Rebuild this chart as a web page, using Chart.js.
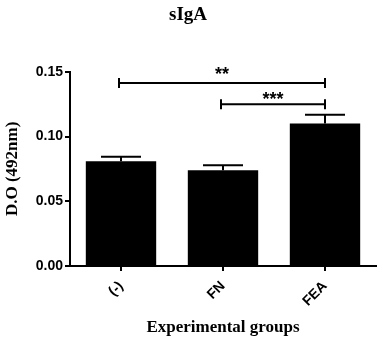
<!DOCTYPE html>
<html>
<head>
<meta charset="utf-8">
<script src="https://cdn.jsdelivr.net/npm/chart.js@4/dist/chart.umd.min.js"></script>
<style>
html,body{margin:0;padding:0;background:#fff;}
#wrap{width:383px;height:343px;}
</style>
</head>
<body>
<div id="wrap"><canvas id="c" width="383" height="343"></canvas></div>
<script>
// ---- data ----
const categories = ["(-)", "FN", "FEA"];
const means = [0.081, 0.074, 0.110];
const sems = [0.0034, 0.0039, 0.0068];
const yTicks = [0.00, 0.05, 0.10, 0.15];
const bracketFrom = [0, 1];
const bracketTo = [2, 2];
const bracketValue = [0.1413, 0.125];
const bracketLabel = ["**", "***"];

const SANS = '"Liberation Sans", Arial, sans-serif';
const SERIF = '"Liberation Serif", "Times New Roman", serif';

const errorBars = {
  id: 'errorBars',
  afterDatasetsDraw(chart) {
    const ctx = chart.ctx;
    const meta = chart.getDatasetMeta(0);
    const y = chart.scales.y;
    ctx.save();
    ctx.strokeStyle = '#000';
    ctx.lineWidth = 2;
    meta.data.forEach((bar, i) => {
      const x = bar.x;
      const yb = y.getPixelForValue(means[i]);
      const yt = y.getPixelForValue(means[i] + sems[i]);
      const half = 20;
      ctx.beginPath();
      ctx.moveTo(x, yb);
      ctx.lineTo(x, yt);
      ctx.moveTo(x - half, yt);
      ctx.lineTo(x + half, yt);
      ctx.stroke();
    });
    // significance brackets
    const xs = chart.scales.x;
    const labelGap = [13, 9];
    bracketFrom.forEach((a, k) => {
      const x1 = xs.getPixelForValue(a) - 2;
      const x2 = xs.getPixelForValue(bracketTo[k]);
      const yy = y.getPixelForValue(bracketValue[k]);
      ctx.beginPath();
      ctx.moveTo(x1, yy); ctx.lineTo(x2, yy);
      ctx.moveTo(x1, yy - 5); ctx.lineTo(x1, yy + 5);
      ctx.moveTo(x2, yy - 5); ctx.lineTo(x2, yy + 5);
      ctx.stroke();
      ctx.fillStyle = '#000';
      ctx.font = 'bold 18px ' + SANS;
      ctx.textAlign = 'center';
      ctx.textBaseline = 'alphabetic';
      const m = ctx.measureText(bracketLabel[k]);
      const cy = yy - labelGap[k];
      const base = cy + (m.actualBoundingBoxAscent - m.actualBoundingBoxDescent) / 2;
      ctx.fillText(bracketLabel[k], (x1 + x2) / 2, base);
    });
    ctx.restore();
  }
};

new Chart(document.getElementById('c'), {
  type: 'bar',
  data: {
    labels: categories,
    datasets: [{
      data: means,
      backgroundColor: '#000',
      borderWidth: 0,
      categoryPercentage: 0.69,
      barPercentage: 1.0
    }]
  },
  options: {
    responsive: false,
    devicePixelRatio: 1,
    animation: false,
    layout: { padding: { left: 0, right: 7, top: 0, bottom: 0 } },
    plugins: {
      legend: { display: false },
      tooltip: { enabled: false },
      title: {
        display: true,
        text: 'sIgA',
        color: '#000',
        font: { family: SERIF, size: 19, weight: 'bold', lineHeight: 1.2 },
        padding: { top: 4, bottom: 45 }
      }
    },
    scales: {
      x: {
        offset: true,
        grid: { display: true, drawOnChartArea: false, drawTicks: true, tickLength: 5, color: '#000', lineWidth: 2, offset: false },
        border: { color: '#000', width: 2 },
        ticks: {
          color: '#000',
          font: { family: SANS, size: 14, weight: 'bold' },
          minRotation: 45, maxRotation: 45, padding: 7
        },
        title: {
          display: true,
          text: 'Experimental groups',
          color: '#000',
          font: { family: SERIF, size: 17, weight: 'bold', lineHeight: 1.2 },
          padding: { top: 0, bottom: 5 }
        },
        afterFit(s) { s.height = 77; }
      },
      y: {
        min: 0, max: 0.15,
        grid: { display: true, drawOnChartArea: false, drawTicks: true, tickLength: 5, color: '#000', lineWidth: 2 },
        border: { color: '#000', width: 2 },
        afterBuildTicks(s) { s.ticks = yTicks.map(v => ({ value: v })); },
        ticks: {
          color: '#000',
          font: { family: SANS, size: 14, weight: 'bold' },
          padding: 2,
          callback: v => Number(v).toFixed(2)
        },
        title: {
          display: true,
          text: 'D.O (492nm)',
          color: '#000',
          font: { family: SERIF, size: 17, weight: 'bold', lineHeight: 1.2 },
          padding: { top: 2, bottom: 0 }
        },
        afterFit(s) { s.width = 70; }
      }
    }
  },
  plugins: [errorBars]
});
</script>
</body>
</html>
